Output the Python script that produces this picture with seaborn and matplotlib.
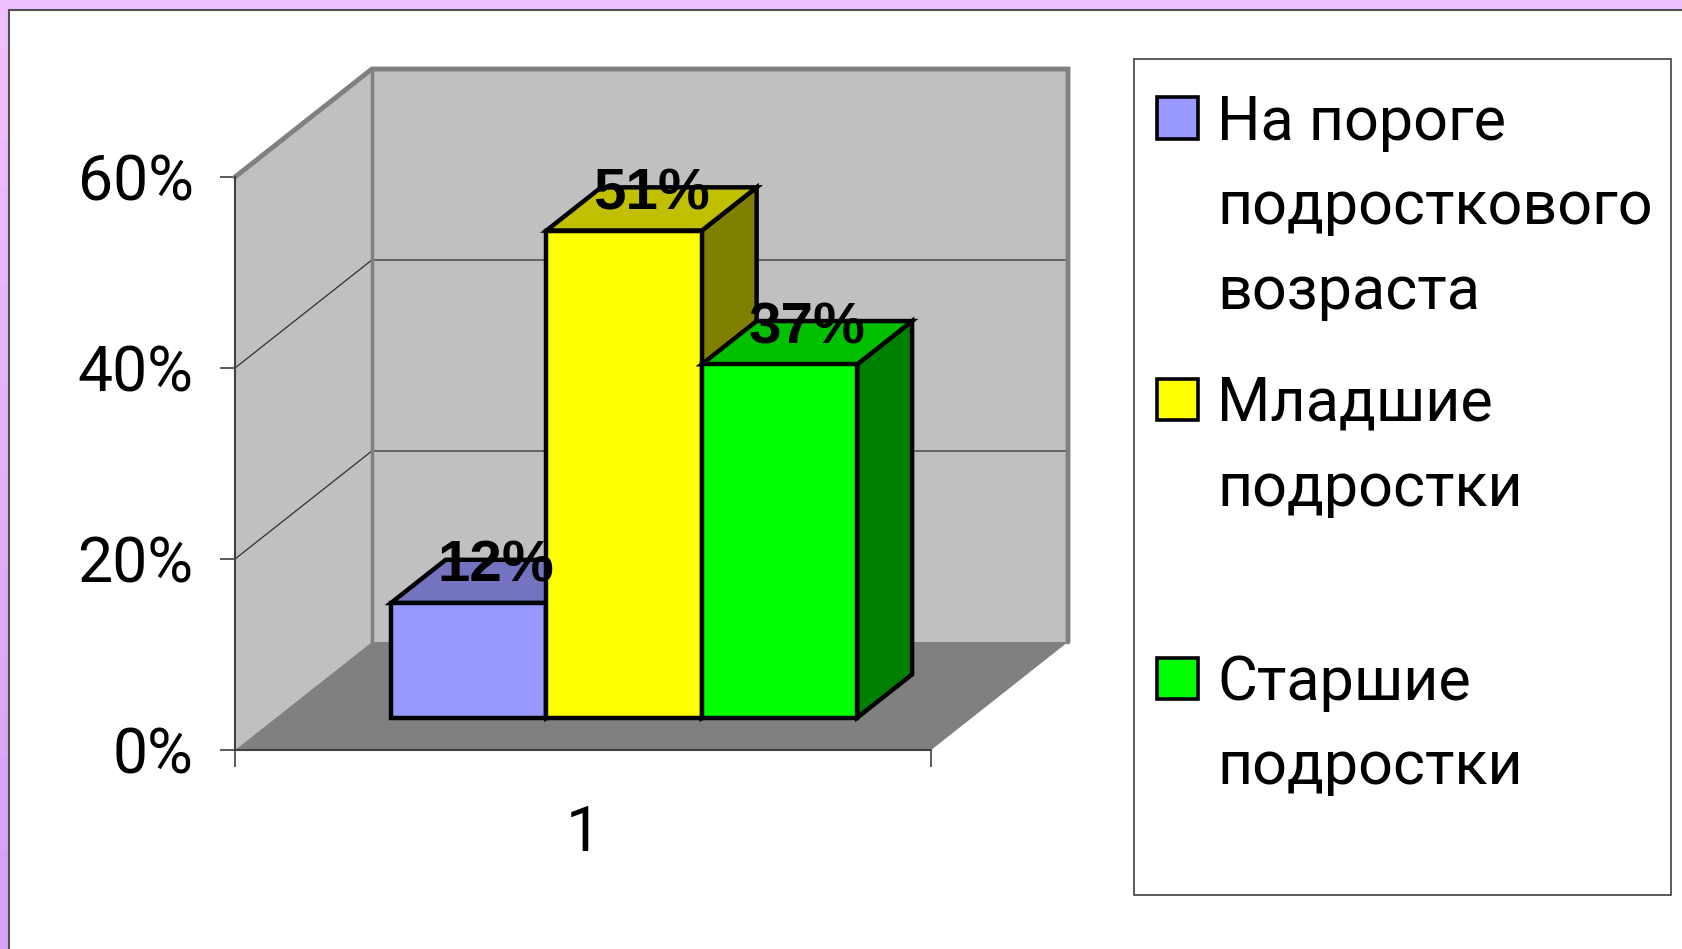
import numpy as np
import pandas as pd
import matplotlib
matplotlib.use("Agg")
import matplotlib.pyplot as plt
from matplotlib.patches import Polygon, Rectangle
import seaborn as sns

# data
categories = ["На пороге\nподросткового\nвозраста", "Младшие\nподростки", "Старшие\nподростки"]
values = [12, 51, 37]
group = ["1", "1", "1"]
front_colors = ["#9999FF", "#FFFF00", "#00FF00"]
top_colors = ["#7373C0", "#C0C000", "#00C000"]
side_colors = ["#666699", "#808000", "#008000"]
y_ticks = [0, 20, 40, 60]
y_tick_labels = ["0%", "20%", "40%", "60%"]

df = pd.DataFrame({"group": group, "category": categories, "value": values})

sns.set_style("white")
plt.rcParams["font.family"] = ["Roboto", "DejaVu Sans"]
plt.rcParams["text.color"] = "black"
plt.rcParams["xtick.labelcolor"] = "black"
plt.rcParams["ytick.labelcolor"] = "black"

W, H = 1683, 949
fig = plt.figure(figsize=(W / 100, H / 100), dpi=100)
fig.patch.set_facecolor("white")

# depth of the 3d box in data units, bars sit between F0 and F1 of it
DX, DY = 0.1966, 11.31
F0, F1 = 0.3, 0.7

ax = fig.add_axes([235 / W, 1 - 750 / H, 833 / W, 681 / H])
sns.barplot(data=df, x="group", y="value", hue="category", hue_order=categories,
            palette=dict(zip(categories, front_colors)), saturation=1, width=0.67,
            edgecolor="black", linewidth=3.2, legend=False, ax=ax)
bars = list(ax.patches)

# walls and floor
wall, floor, edge = "#C0C0C0", "#808080", "#808080"
ax.add_patch(Polygon([(-0.5, 0), (-0.5, 60), (-0.5 + DX, 60 + DY), (-0.5 + DX, DY)],
                     closed=True, fc=wall, ec="none", zorder=0))
ax.add_patch(Rectangle((-0.5 + DX, DY), 1, 60, fc=wall, ec="none", zorder=0))
ax.add_patch(Polygon([(-0.5, 0), (0.5, 0), (0.5 + DX, DY), (-0.5 + DX, DY)],
                     closed=True, fc=floor, ec="none", zorder=0.5))
for v in [20, 40]:
    ax.plot([-0.5, -0.5 + DX, 0.5 + DX], [v, v + DY, v + DY], color="#303030", lw=0.9, zorder=1)
ax.plot([-0.5, -0.5 + DX, 0.5 + DX, 0.5 + DX], [60, 60 + DY, 60 + DY, DY],
        color=edge, lw=3.5, zorder=1.5, clip_on=False, solid_joinstyle="miter")
ax.plot([-0.5 + DX, -0.5 + DX], [DY, 60 + DY], color=edge, lw=2.5, zorder=1.5, clip_on=False)
ax.plot([-0.5, -0.5, 0.5], [60, 0, 0], color="#404040", lw=1.5, zorder=2, clip_on=False)

# turn the flat seaborn bars into boxes
fx, fy = F0 * DX, F0 * DY
bdx, bdy = (F1 - F0) * DX, (F1 - F0) * DY
for i, bar in enumerate(bars):
    x0, w, h = bar.get_x() + fx, bar.get_width(), bar.get_height()
    bar.set_x(x0)
    bar.set_y(fy)
    bar.set_zorder(10 + 3 * i + 2)
    side = Polygon([(x0 + w, fy), (x0 + w + bdx, fy + bdy), (x0 + w + bdx, fy + h + bdy), (x0 + w, fy + h)],
                   closed=True, fc=side_colors[i], ec="black", lw=3.2, zorder=10 + 3 * i)
    top = Polygon([(x0, fy + h), (x0 + w, fy + h), (x0 + w + bdx, fy + h + bdy), (x0 + bdx, fy + h + bdy)],
                  closed=True, fc=top_colors[i], ec="black", lw=3.2, zorder=10 + 3 * i + 1)
    ax.add_patch(side)
    ax.add_patch(top)
    ax.text(x0 + w / 2 + bdx / 2, fy + h + bdy - 2.3, f"{h:.0f}%", ha="center", va="baseline",
            fontsize=42, fontweight="bold", color="black",
            family=["Liberation Sans", "DejaVu Sans"], zorder=40)

ax.set_xlim(-0.5, 0.5 + DX)
ax.set_ylim(0, 60 + DY)
ax.set_yticks(y_ticks, y_tick_labels)
ax.set_xlabel("")
ax.set_ylabel("")
for s in ax.spines.values():
    s.set_visible(False)
ax.set_facecolor("none")
ax.tick_params(axis="y", direction="out", length=10.8, width=1.2, color="#404040",
               pad=19, labelsize=45, left=True, labelcolor="black")
ax.tick_params(axis="x", which="major", length=0, pad=39, labelsize=45, labelcolor="black")
ax.set_xticks([-0.5, 0.5], minor=True)
ax.tick_params(axis="x", which="minor", direction="out", length=12, width=1.2,
               color="#404040", bottom=True)

# legend box drawn by hand
fig.add_artist(Rectangle((1133.5 / W, 1 - 895 / H), (1671 - 1133.5) / W, (895 - 59) / H,
                         transform=fig.transFigure, fc="white", ec="#404040", lw=1.2))
first_baselines = [140, 421, 700]
for lab, col, base in zip(categories, front_colors, first_baselines):
    top_px = base - 22 - 20.5
    fig.add_artist(Rectangle((1157 / W, 1 - (top_px + 41) / H), 41 / W, 41 / H,
                             transform=fig.transFigure, fc=col, ec="black", lw=2.6))
    for k, line in enumerate(lab.split("\n")):
        fig.text(1217 / W, 1 - (base + k * 84.5) / H, line, fontsize=44, color="black",
                 ha="left", va="baseline")

# lavender frame at the top and left of the screenshot
fig.add_artist(Rectangle((0, 1 - 9 / H), 1, 9 / H, transform=fig.transFigure,
                         fc="#F0C0FF", ec="none"))
n = 20
c0, c1 = np.array([240, 192, 255]) / 255, np.array([212, 160, 240]) / 255
for k in range(n):
    t = k / (n - 1)
    fig.add_artist(Rectangle((0, 1 - (k + 1) / n), 8 / W, 1 / n + 0.002, transform=fig.transFigure,
                             fc=tuple(c0 * (1 - t) + c1 * t), ec="none"))
fig.add_artist(plt.Line2D([9 / W, 1], [1 - 10 / H, 1 - 10 / H], transform=fig.transFigure,
                          color="#505050", lw=1.5))
fig.add_artist(plt.Line2D([9 / W, 9 / W], [0, 1 - 10 / H], transform=fig.transFigure,
                          color="#505050", lw=1.5))

fig.savefig("out.png", dpi=100)
